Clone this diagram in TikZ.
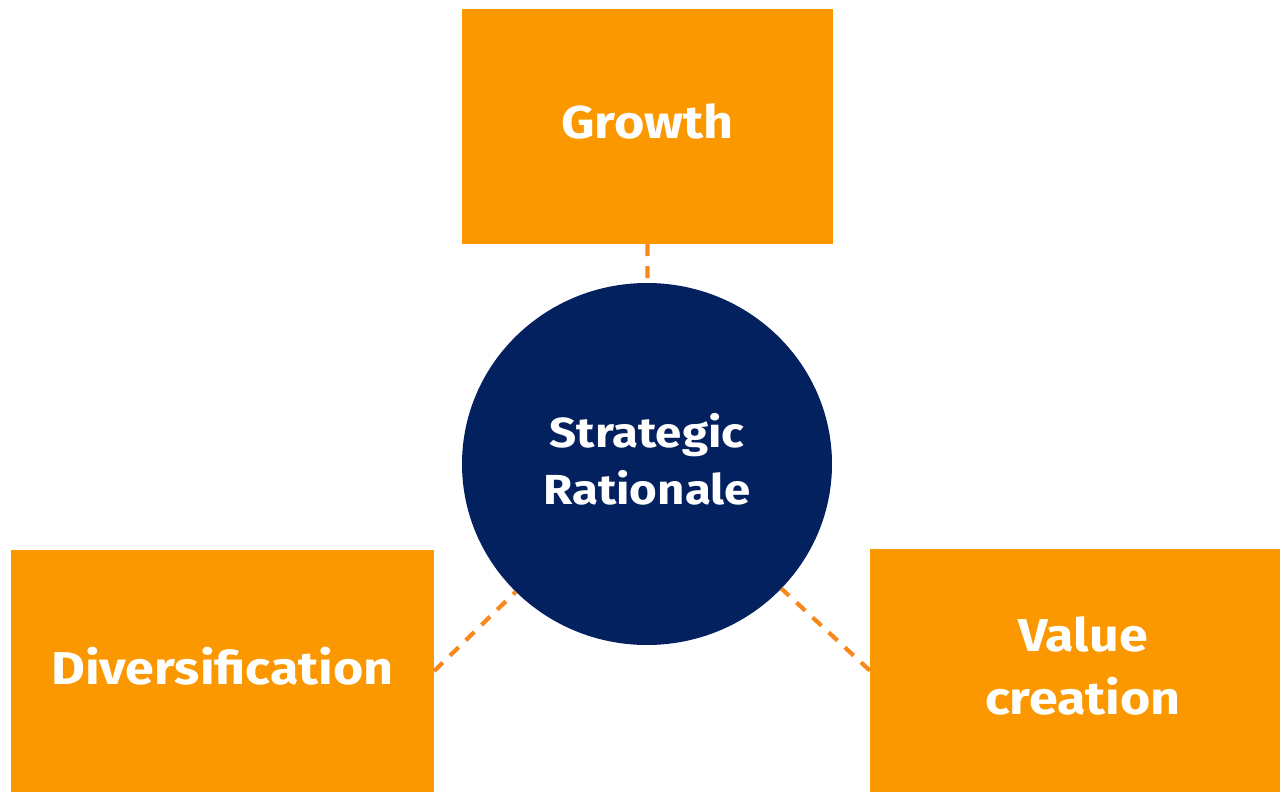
\documentclass[tikz,border=0pt]{standalone}
\usepackage{fontspec}
\setmainfont[FakeStretch=1.13]{Fira Sans}
\usetikzlibrary{shapes.geometric}
\definecolor{boxorange}{HTML}{FB9800}
\definecolor{lineorange}{HTML}{F7881A}
\definecolor{navy}{HTML}{03215F}
\tikzset{
  obox/.style={fill=boxorange, draw=none, inner sep=0pt},
  olbl/.style={text=white, inner sep=0pt, font=\bfseries\fontsize{46}{63}\selectfont, align=center, yshift=5pt},
  hub/.style={ellipse, fill=navy, draw=none, inner sep=0pt},
  hlbl/.style={text=white, inner sep=0pt, font=\bfseries\fontsize{42}{57}\selectfont, align=center, yshift=5pt},
  conn/.style={draw=lineorange, line width=4.2pt, dash pattern=on 12pt off 10pt}
}
\begin{document}
\begin{tikzpicture}[x=1pt,y=-1pt]
\useasboundingbox (0,0) rectangle (1280,792);
\node[obox, minimum width=371pt, minimum height=235pt, label={[olbl]center:Growth}] (g) at (647.5,126.5) {};
\node[obox, minimum width=423pt, minimum height=242pt, label={[olbl]center:Diversification}] (d) at (222.5,671) {};
\node[obox, minimum width=410pt, minimum height=243pt, label={[olbl, xshift=8pt]center:{Value\\creation}}] (v) at (1075,670.5) {};
\node[hub, minimum width=370pt, minimum height=362pt, label={[hlbl]center:{Strategic\\Rationale}}] (c) at (647,464) {};
\draw[conn] (g.south) -- (c);
\draw[conn] (d.east) -- (c);
\draw[conn] (v.west) -- (c);
\end{tikzpicture}
\end{document}
